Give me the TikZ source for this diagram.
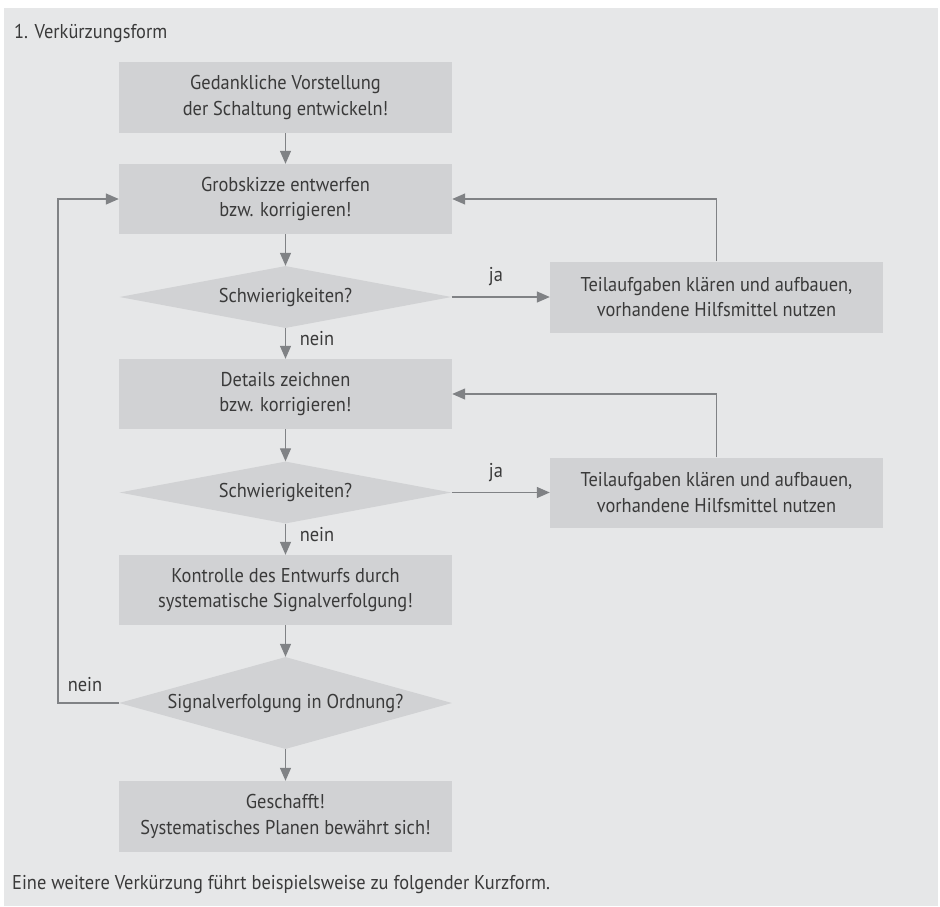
\documentclass[tikz,border=0pt]{standalone}
\usepackage{fontspec}
\setmainfont{PT Sans}[FakeStretch=0.92]
\usetikzlibrary{shapes.geometric,arrows.meta}
\definecolor{panel}{HTML}{E6E7E8}
\definecolor{boxfill}{HTML}{D1D2D4}
\definecolor{txt}{HTML}{3A3A3A}
\definecolor{arrcol}{HTML}{808285}
\begin{document}
\begin{tikzpicture}[x=1pt,y=-1pt,
  every node/.style={text=txt,font=\fontsize{20}{25.7}\selectfont},
  stepbox/.style={rectangle,fill=boxfill,minimum width=333pt,minimum height=71pt,align=center,inner sep=0pt},
  decision/.style={diamond,fill=boxfill,minimum width=332pt,minimum height=62pt,inner sep=0pt,shape aspect=5},
  arr/.style={draw=arrcol,line width=1.3pt,-{Triangle[length=13pt,width=11pt]}},
  lbl/.style={inner sep=0pt}]
\useasboundingbox (0,0) rectangle (940,906);
\fill[white] (0,0) rectangle (940,906);
\fill[panel] (4,8) rectangle (938,906);
\node[lbl,anchor=west] (title) at (14,33) {1. Verkürzungsform};
\node[stepbox] (b1) at (285.5,97.5) {Gedankliche Vorstellung\\der Schaltung entwickeln!};
\node[stepbox,minimum height=70pt] (b2) at (285.5,199) {Grobskizze entwerfen\\bzw. korrigieren!};
\node[decision] (d1) at (285.5,297) {Schwierigkeiten?};
\node[stepbox] (r1) at (716.5,297) {Teilaufgaben klären und aufbauen,\\vorhandene Hilfsmittel nutzen};
\node[stepbox,minimum height=70pt] (b3) at (285.5,394) {Details zeichnen\\bzw. korrigieren!};
\node[decision] (d2) at (285.5,492.5) {Schwierigkeiten?};
\node[stepbox,minimum height=70pt] (r2) at (716.5,492.5) {Teilaufgaben klären und aufbauen,\\vorhandene Hilfsmittel nutzen};
\node[stepbox,minimum height=70pt] (b4) at (285.5,590) {Kontrolle des Entwurfs durch\\systematische Signalverfolgung!};
\node[decision,minimum width=333pt,minimum height=92pt] (d3) at (285.5,703) {Signalverfolgung in Ordnung?};
\node[stepbox] (b5) at (285.5,816.5) {Geschafft!\\Systematisches Planen bewährt sich!};
\node[lbl,anchor=west] (foot) at (12,885) {Eine weitere Verkürzung führt beispielsweise zu folgender Kurzform.};
\coordinate (lc) at (58,703);
\draw[arr] (b1) -- (b2);
\draw[arr] (b2) -- (d1);
\draw[arr] (d1) -- (b3);
\draw[arr] (d1.east) -- (r1.west);
\draw[arr] (r1.north) |- (b2.east);
\draw[arr] (b3) -- (d2);
\draw[arr] (d2) -- (b4);
\draw[arr] (d2.east) -- (r2.west);
\draw[arr] (r2.north) |- (b3.east);
\draw[arr] (b4) -- (d3);
\draw[arr] (d3) -- (b5);
\draw[arr] (d3.west) -- (lc) |- (b2.west);
\node[lbl] (ja1) at (496,277) {ja};
\node[lbl] (ne1) at (317,339) {nein};
\node[lbl] (ja2) at (496,473) {ja};
\node[lbl] (ne2) at (317,535) {nein};
\node[lbl] (ne3) at (85,685) {nein};
\end{tikzpicture}
\end{document}
